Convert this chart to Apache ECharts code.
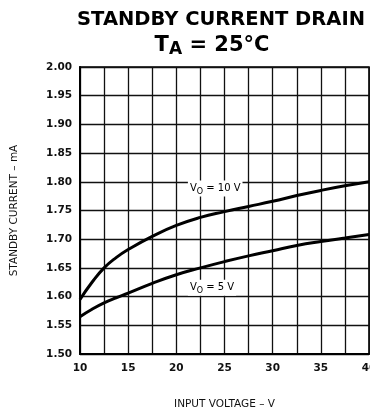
<!DOCTYPE html>
<html><head><meta charset="utf-8">
<script src="https://cdn.jsdelivr.net/npm/echarts@6/dist/echarts.min.js"></script>
<style>html,body{margin:0;padding:0;background:#fff}#c{width:370px;height:410px}</style>
</head><body><div id="c"></div>
<script>
const voltage = [10, 11.25, 12.5, 13.75, 15, 17.5, 20, 22.5, 25, 27.5, 30, 32.5, 35, 37.5, 40];
const currentVo10 = [1.595, 1.625, 1.650, 1.668, 1.682, 1.705, 1.724, 1.738, 1.748, 1.757, 1.766, 1.776, 1.785, 1.793, 1.800];
const currentVo5  = [1.565, 1.578, 1.589, 1.598, 1.606, 1.623, 1.638, 1.650, 1.661, 1.671, 1.680, 1.689, 1.696, 1.702, 1.708];
const seriesNames = ['Vo = 10 V', 'Vo = 5 V'];
const xTicks = [10, 15, 20, 25, 30, 35, 40];
const title1 = 'STANDBY CURRENT DRAIN';
const xName = 'INPUT VOLTAGE – V';
const yName = 'STANDBY CURRENT – mA';

const FONT = 'DejaVu Sans';
const chart = echarts.init(document.getElementById('c'), null, {renderer: 'canvas'});
const pair = (xs, ys) => xs.map((x, i) => [x, ys[i]]);

chart.setOption({
  animation: false,
  backgroundColor: '#fff',
  grid: {left: 80, right: 1, top: 67, bottom: 56, show: true, borderColor: '#000', borderWidth: 1.6,
         outerBoundsMode: 'none', containLabel: false},
  xAxis: {
    type: 'value', min: 10, max: 40, interval: 2.5,
    name: xName, nameLocation: 'middle', nameGap: 45,
    nameTextStyle: {fontFamily: FONT, fontSize: 10.5, color: '#111'},
    axisLine: {show: true, lineStyle: {color: '#000', width: 2}},
    axisTick: {show: false},
    axisLabel: {
      margin: 9, fontFamily: FONT, fontSize: 10.5, fontWeight: 'bold', color: '#111',
      formatter: v => xTicks.includes(v) ? String(v) : ''
    },
    splitLine: {show: true, lineStyle: {color: '#111', width: 1.3}}
  },
  yAxis: {
    type: 'value', min: 1.5, max: 2.0, interval: 0.05,
    name: yName, nameLocation: 'middle', nameGap: 60, nameRotate: 90,
    nameTextStyle: {fontFamily: FONT, fontSize: 10.5, color: '#111'},
    axisLine: {show: true, lineStyle: {color: '#000', width: 2}},
    axisTick: {show: false},
    axisLabel: {margin: 8, fontFamily: FONT, fontSize: 10.5, fontWeight: 'bold', color: '#111',
      formatter: v => v.toFixed(2)},
    splitLine: {show: true, lineStyle: {color: '#111', width: 1.3}}
  },
  series: [
    {name: seriesNames[0], type: 'line', smooth: 0.5, symbol: 'none', data: pair(voltage, currentVo10),
     lineStyle: {color: '#000', width: 3}},
    {name: seriesNames[1], type: 'line', smooth: 0.5, symbol: 'none', data: pair(voltage, currentVo5),
     lineStyle: {color: '#000', width: 3}}
  ]
});

function labelAt(v, c, main, sub, rest) {
  const p = chart.convertToPixel({gridIndex: 0}, [v, c]);
  return {
    type: 'text', x: p[0], y: p[1] - 7, z: 10,
    style: {
      rich: {
        m: {fontFamily: FONT, fontSize: 10, fill: '#000', lineHeight: 14},
        s: {fontFamily: FONT, fontSize: 8, fill: '#000', verticalAlign: 'bottom', lineHeight: 10, padding: [4, 0, 0, 0]}
      },
      text: '{m|' + main + '}{s|' + sub + '}{m|' + rest + '}',
      backgroundColor: '#fff', padding: [1, 2, 1, 2]
    }
  };
}

chart.setOption({
  graphic: [
    {type: 'text', x: 221, y: 20, style: {text: title1, font: 'bold 19.5px "DejaVu Sans"', fill: '#000',
      align: 'center', verticalAlign: 'middle'}},
    {type: 'text', x: 212, y: 46, style: {
      rich: {
        m: {fontFamily: FONT, fontSize: 21, fontWeight: 'bold', fill: '#000', lineHeight: 24},
        s: {fontFamily: FONT, fontSize: 17, fontWeight: 'bold', fill: '#000', verticalAlign: 'bottom', lineHeight: 16, padding: [9, 0, 0, 0]}
      },
      text: '{m|T}{s|A}{m| = 25°C}', align: 'center', verticalAlign: 'middle'
    }},
    labelAt(21.2, 1.79, 'V', 'O', ' = 10 V'),
    labelAt(21.2, 1.617, 'V', 'O', ' = 5 V')
  ]
});
</script></body></html>
